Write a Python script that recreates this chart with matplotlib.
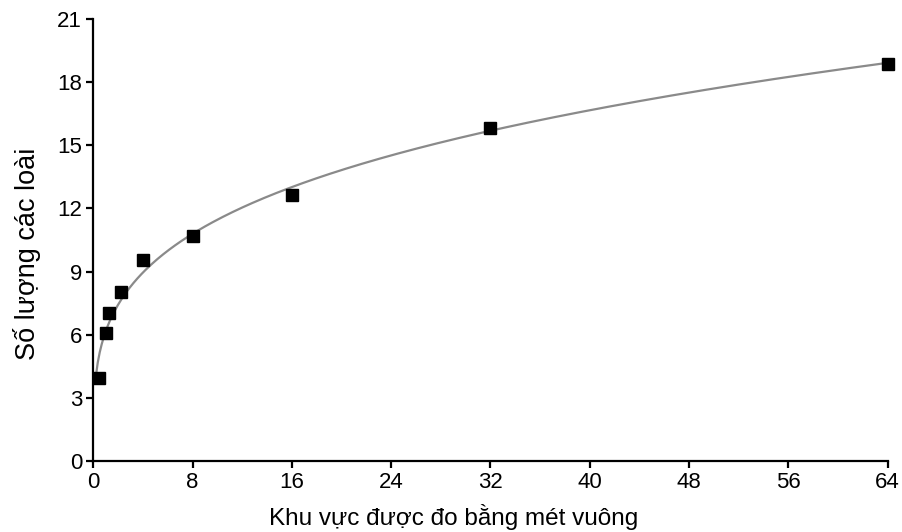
import numpy as np
import matplotlib.pyplot as plt

plt.rcParams['font.family'] = ['Liberation Sans', 'DejaVu Sans']

# Data
area = np.array([0.5, 1, 1.25, 2.25, 4, 8, 16, 32, 64])
species = np.array([3.95, 6.1, 7.05, 8.05, 9.55, 10.7, 12.65, 15.8, 18.85])

# Power-law fit S = c * A^z, least squares on S itself
zs = np.linspace(0.1, 0.5, 4001)
best = None
for z in zs:
    xz = area ** z
    c = np.sum(species * xz) / np.sum(xz * xz)
    sse = np.sum((species - c * xz) ** 2)
    if best is None or sse < best[0]:
        best = (sse, c, z)
_, c, z = best
fit_x = np.linspace(0.2, 64, 400)
fit_y = c * fit_x ** z

fig = plt.figure(figsize=(9.03, 5.32), dpi=100)
ax = fig.add_axes([0.1033, 0.1335, 0.8797, 0.8308])

ax.plot(fit_x, fit_y, color='#8a8a8a', lw=1.6, zorder=2)
ax.plot(area, species, 's', color='black', markersize=8, zorder=3, clip_on=False)

ax.set_xlim(0, 64)
ax.set_ylim(0, 21)
ax.set_xticks(np.arange(0, 65, 8))
ax.set_yticks(np.arange(0, 22, 3))

for side in ['top', 'right']:
    ax.spines[side].set_visible(False)
for side in ['left', 'bottom']:
    ax.spines[side].set_linewidth(1.6)
ax.tick_params(direction='out', length=5, width=1.6, labelsize=16, pad=3)

# labels sit a little off-centre in the original
ax.set_xlabel("Khu vực được đo bằng mét vuông", fontsize=17.5, labelpad=8)
ax.xaxis.label.set_x(0.453)
ax.set_ylabel("Số lượng các loài", fontsize=19.5, labelpad=12)
ax.yaxis.label.set_y(0.468)

fig.savefig('out.png', dpi=100)
